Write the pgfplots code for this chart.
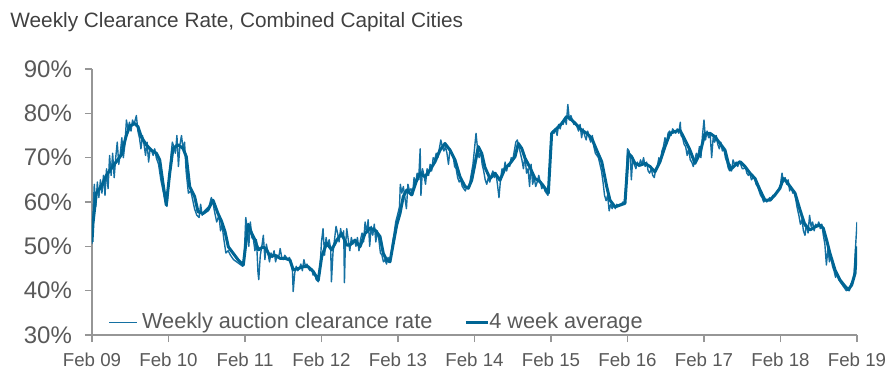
\documentclass[border=0pt]{standalone}
\usepackage{fontspec}
\setmainfont{Liberation Sans}
\usepackage{pgfplots}
\usepackage{pgfplotstable}
\pgfplotsset{compat=1.18}
\definecolor{lineblue}{RGB}{0,101,148}
\definecolor{thinblue}{RGB}{20,112,162}
\definecolor{txtgray}{RGB}{89,89,89}
\definecolor{axgray}{RGB}{150,150,150}
\definecolor{titlegray}{RGB}{64,64,64}
\pgfplotsset{
  legone/.style={legend image code/.code={\draw[##1] (0pt,0pt) -- (11.5pt,0pt); \path (0pt,0pt) -- (14pt,0pt);}},
  legtwo/.style={legend image code/.code={\draw[##1] (0pt,0pt) -- (9pt,0pt); \draw[##1,overlay] (8pt,0pt) -- (11pt,0pt);}},
}

\pgfplotstableread{
t v
0.00 50.5
0.02 60.0
0.03 64.0
0.05 59.0
0.07 64.5
0.09 61.0
0.11 65.0
0.13 62.0
0.15 66.0
0.17 61.5
0.19 67.5
0.21 63.0
0.23 70.5
0.25 66.0
0.27 71.0
0.29 65.5
0.31 70.0
0.33 73.5
0.35 68.5
0.37 71.0
0.39 74.5
0.41 70.0
0.43 73.0
0.45 78.5
0.47 76.5
0.49 78.0
0.51 76.0
0.53 78.5
0.55 77.5
0.58 79.5
0.60 76.0
0.62 74.5
0.64 72.0
0.66 75.0
0.68 73.0
0.70 70.5
0.72 73.5
0.74 69.0
0.76 72.0
0.78 71.5
0.80 70.5
0.82 72.0
0.84 70.0
0.87 68.5
0.90 65.0
0.93 62.5
0.96 60.0
0.98 59.0
1.00 63.5
1.03 70.0
1.05 73.5
1.07 72.5
1.09 71.0
1.11 75.0
1.13 68.0
1.15 73.0
1.17 75.0
1.19 72.0
1.21 73.5
1.23 67.0
1.26 62.0
1.29 62.5
1.31 61.0
1.34 58.5
1.37 57.0
1.40 56.5
1.42 59.5
1.44 57.0
1.47 58.0
1.50 58.5
1.53 59.0
1.56 61.0
1.58 60.0
1.60 58.0
1.63 55.5
1.66 57.0
1.68 53.5
1.70 55.0
1.72 52.0
1.75 48.5
1.78 49.0
1.81 48.0
1.85 47.0
1.89 46.5
1.93 46.0
1.97 45.5
1.99 48.0
2.01 56.5
2.03 54.0
2.05 50.0
2.07 55.5
2.09 52.0
2.11 51.5
2.13 49.0
2.15 51.5
2.17 44.0
2.18 42.5
2.20 48.0
2.22 50.0
2.24 52.5
2.26 47.0
2.28 50.5
2.30 48.5
2.32 46.5
2.34 48.5
2.36 47.5
2.38 49.0
2.40 46.5
2.42 48.0
2.44 47.5
2.46 49.5
2.48 47.5
2.50 47.0
2.52 48.0
2.54 47.5
2.56 47.0
2.58 47.5
2.60 46.5
2.62 44.5
2.63 39.8
2.65 44.0
2.67 45.5
2.69 44.5
2.71 45.0
2.73 46.0
2.75 44.5
2.77 47.0
2.79 45.5
2.81 46.0
2.83 45.0
2.85 44.5
2.87 45.0
2.89 43.5
2.91 44.0
2.93 42.5
2.96 42.0
2.98 45.0
3.00 51.0
3.02 54.0
3.04 48.0
3.06 52.0
3.08 50.0
3.10 51.5
3.12 49.5
3.13 42.0
3.15 48.5
3.17 51.5
3.19 54.5
3.21 53.0
3.23 51.0
3.25 54.0
3.27 52.0
3.29 53.5
3.30 41.8
3.31 49.0
3.33 54.0
3.35 51.5
3.37 49.0
3.39 52.0
3.41 50.5
3.43 51.5
3.45 50.0
3.47 52.0
3.49 49.0
3.51 51.5
3.53 53.0
3.55 51.0
3.57 55.5
3.59 53.0
3.61 56.0
3.63 50.0
3.65 54.5
3.67 52.5
3.69 55.0
3.71 51.0
3.73 53.5
3.75 51.5
3.77 48.5
3.79 48.0
3.81 46.5
3.83 47.0
3.85 46.0
3.87 47.5
3.89 46.5
3.91 48.0
3.93 51.0
3.95 53.0
3.97 55.5
4.00 57.5
4.02 59.0
4.03 64.0
4.05 62.0
4.07 63.5
4.09 61.0
4.11 58.5
4.13 64.0
4.15 62.5
4.17 63.0
4.19 61.5
4.21 65.5
4.23 64.0
4.25 66.5
4.27 65.0
4.29 72.0
4.30 61.5
4.32 67.5
4.34 66.0
4.36 64.0
4.38 67.5
4.40 66.0
4.42 68.5
4.44 67.0
4.46 70.0
4.48 69.5
4.50 71.0
4.52 70.0
4.54 72.0
4.56 74.0
4.58 72.5
4.60 71.5
4.62 72.5
4.64 71.0
4.66 68.5
4.68 72.0
4.70 71.0
4.72 70.5
4.74 68.0
4.76 67.5
4.78 65.5
4.80 64.5
4.82 65.0
4.84 63.5
4.86 63.0
4.88 62.5
4.90 63.5
4.92 63.0
4.94 64.5
4.96 66.5
4.98 68.5
5.00 72.0
5.02 75.5
5.04 72.0
5.06 70.0
5.08 71.5
5.10 68.5
5.12 67.0
5.14 65.0
5.16 64.0
5.18 65.5
5.20 64.5
5.22 66.0
5.24 67.0
5.26 65.5
5.28 66.5
5.30 64.0
5.32 61.0
5.34 65.0
5.36 67.5
5.38 66.5
5.40 69.0
5.42 67.0
5.44 68.5
5.46 68.0
5.48 70.0
5.50 69.5
5.52 71.5
5.54 73.5
5.56 74.0
5.58 72.5
5.60 71.0
5.62 69.5
5.64 67.5
5.66 70.5
5.68 66.5
5.70 67.5
5.72 63.5
5.74 68.5
5.76 64.0
5.78 65.5
5.80 63.5
5.82 64.5
5.84 66.0
5.86 64.5
5.88 63.0
5.90 64.0
5.92 62.5
5.94 62.0
5.96 61.5
5.98 66.0
6.00 74.0
6.02 76.0
6.04 75.5
6.06 76.5
6.08 75.0
6.10 77.5
6.12 76.5
6.14 78.0
6.16 77.5
6.18 79.0
6.20 77.5
6.22 82.0
6.24 78.5
6.26 79.5
6.28 78.5
6.30 77.5
6.32 78.0
6.34 77.0
6.36 76.0
6.38 77.5
6.40 74.5
6.42 76.5
6.44 75.0
6.46 74.0
6.48 76.0
6.50 74.5
6.52 73.5
6.54 75.0
6.56 72.5
6.58 71.0
6.60 70.5
6.62 70.0
6.64 68.5
6.66 67.0
6.68 64.5
6.70 61.5
6.72 60.3
6.74 61.5
6.76 58.0
6.78 59.5
6.80 58.5
6.82 59.5
6.84 58.5
6.86 59.5
6.88 59.0
6.90 59.5
6.92 59.5
6.94 60.0
6.96 60.0
6.98 64.0
7.00 72.0
7.02 71.5
7.04 69.5
7.05 65.0
7.07 70.0
7.09 68.5
7.11 67.5
7.13 69.0
7.15 68.0
7.17 69.5
7.19 68.5
7.21 70.0
7.23 68.0
7.25 69.0
7.27 67.0
7.29 66.5
7.31 67.5
7.33 66.0
7.35 65.5
7.37 67.5
7.39 68.0
7.41 70.0
7.43 69.0
7.45 71.5
7.47 72.5
7.49 74.5
7.51 73.0
7.53 75.5
7.55 76.0
7.57 75.0
7.59 76.5
7.61 76.0
7.63 75.5
7.65 76.5
7.67 75.5
7.69 78.0
7.70 75.0
7.72 74.5
7.74 73.0
7.76 72.5
7.78 70.5
7.80 72.0
7.82 69.5
7.84 69.0
7.86 68.0
7.88 69.5
7.90 71.0
7.92 70.0
7.94 72.5
7.96 70.0
7.98 75.0
8.00 78.5
8.02 74.0
8.04 76.0
8.06 74.5
8.08 75.5
8.10 70.0
8.12 74.5
8.14 73.5
8.16 75.0
8.18 73.0
8.20 72.0
8.22 73.5
8.24 71.5
8.26 72.0
8.28 70.0
8.30 69.0
8.32 67.5
8.34 68.5
8.36 67.0
8.38 69.5
8.40 68.5
8.42 69.0
8.44 68.0
8.46 69.0
8.48 68.5
8.50 67.5
8.52 67.5
8.54 68.0
8.56 66.5
8.58 66.0
8.60 66.5
8.62 65.0
8.64 65.5
8.66 65.5
8.68 64.0
8.70 63.5
8.72 62.5
8.74 61.5
8.76 61.0
8.78 60.0
8.80 60.5
8.82 60.0
8.84 60.5
8.86 61.0
8.88 60.5
8.90 61.5
8.92 61.5
8.94 62.0
8.96 62.5
8.98 63.0
9.00 64.0
9.02 66.5
9.04 64.5
9.06 65.5
9.08 64.0
9.10 65.0
9.12 62.5
9.14 63.5
9.16 62.0
9.18 62.5
9.20 60.5
9.22 58.5
9.24 57.0
9.26 55.0
9.28 56.0
9.30 53.5
9.32 52.5
9.34 55.0
9.36 53.0
9.38 57.0
9.40 54.5
9.42 55.5
9.44 53.5
9.46 55.0
9.48 54.5
9.50 55.5
9.52 54.0
9.54 55.0
9.56 52.5
9.58 50.5
9.60 45.8
9.62 49.5
9.64 46.5
9.66 48.0
9.68 45.5
9.70 44.5
9.72 43.0
9.74 44.0
9.76 42.5
9.78 42.0
9.80 41.5
9.82 41.0
9.84 40.5
9.86 40.0
9.88 40.3
9.90 40.0
9.92 41.5
9.94 42.0
9.96 43.0
9.98 49.5
10.00 55.5
}\weekly

\pgfplotstableread{
t v
0.000 51.0
0.013 55.2
0.056 62.0
0.122 63.5
0.187 66.0
0.252 67.6
0.318 69.1
0.383 70.6
0.448 75.0
0.493 77.1
0.558 77.7
0.601 77.0
0.644 74.7
0.710 72.9
0.775 71.7
0.841 71.0
0.885 69.5
0.928 64.2
0.971 59.3
1.016 66.5
1.059 72.1
1.124 72.9
1.190 72.1
1.233 70.2
1.277 63.5
1.342 61.2
1.386 57.8
1.451 57.4
1.516 58.2
1.582 60.4
1.647 57.4
1.695 55.6
1.739 53.3
1.782 49.9
1.847 48.4
1.912 46.9
1.978 45.8
2.022 52.2
2.043 55.0
2.088 52.9
2.131 51.4
2.174 49.2
2.239 49.9
2.284 49.2
2.327 47.7
2.392 48.0
2.458 47.3
2.523 47.3
2.588 46.9
2.631 44.7
2.697 45.0
2.762 45.4
2.827 45.4
2.893 44.3
2.958 42.4
3.003 47.7
3.068 50.7
3.133 49.2
3.199 51.4
3.264 52.9
3.329 50.3
3.373 50.3
3.438 51.4
3.503 49.9
3.569 52.9
3.634 54.1
3.699 53.7
3.765 52.2
3.808 48.4
3.852 46.9
3.895 46.5
3.939 50.7
3.983 54.8
4.026 57.4
4.069 61.2
4.114 62.7
4.179 61.6
4.244 64.9
4.288 66.5
4.353 65.7
4.418 67.2
4.484 69.1
4.549 71.7
4.614 73.2
4.680 71.7
4.745 69.5
4.810 65.7
4.876 63.5
4.919 63.1
4.963 64.9
5.007 68.7
5.050 72.5
5.094 71.0
5.137 67.8
5.203 65.3
5.268 66.5
5.333 64.9
5.399 67.6
5.464 68.7
5.529 70.2
5.573 73.2
5.617 72.1
5.660 69.9
5.725 67.8
5.791 65.3
5.856 64.6
5.922 63.1
5.965 62.0
6.009 75.5
6.075 76.6
6.140 77.7
6.205 79.3
6.271 78.5
6.336 77.4
6.401 76.2
6.466 75.5
6.532 74.4
6.597 71.7
6.663 69.1
6.728 63.5
6.771 60.4
6.837 58.9
6.902 59.3
6.967 59.7
7.011 71.0
7.055 70.2
7.098 68.7
7.163 68.3
7.229 68.7
7.294 68.0
7.359 66.8
7.425 69.1
7.490 72.5
7.556 75.5
7.621 75.9
7.686 76.2
7.752 74.0
7.817 71.7
7.882 68.7
7.948 71.0
8.013 75.5
8.078 75.5
8.144 74.7
8.209 73.2
8.275 71.7
8.340 67.2
8.405 68.3
8.471 69.1
8.536 68.0
8.601 66.5
8.667 65.3
8.732 62.7
8.797 60.4
8.863 60.4
8.928 61.6
8.993 63.1
9.037 65.3
9.080 64.6
9.124 63.5
9.190 62.0
9.255 58.2
9.320 54.8
9.386 53.7
9.451 54.4
9.516 54.8
9.559 54.1
9.603 51.4
9.647 48.4
9.712 44.7
9.778 42.4
9.843 41.0
9.886 40.2
9.931 41.3
9.974 43.9
9.996 50.0
}\avg

\begin{document}
\begin{tikzpicture}
\path[use as bounding box] (0,0) rectangle (448pt,188pt);
\node[anchor=west, text=titlegray, font=\fontsize{10.4}{12}\selectfont, inner sep=0pt] at (5pt,177pt) {Weekly Clearance Rate, Combined Capital Cities};
\begin{axis}[
  at={(46pt,20.5pt)}, anchor=south west,
  width=382.5pt, height=133pt, scale only axis,
  xmin=0, xmax=10, ymin=30, ymax=90,
  axis x line*=bottom, axis y line*=left,
  axis line style={draw=axgray, line width=0.6pt, -},
  xtick={0,1,2,3,4,5,6,7,8,9,10},
  xticklabels={Feb 09,Feb 10,Feb 11,Feb 12,Feb 13,Feb 14,Feb 15,Feb 16,Feb 17,Feb 18,Feb 19},
  ytick={30,40,50,60,70,80,90},
  yticklabels={30\%,40\%,50\%,60\%,70\%,80\%,90\%},
  tick align=outside, major tick length=3.5pt,
  tick style={draw=axgray, line width=0.6pt},
  xticklabel style={font=\fontsize{9.35}{11}\selectfont, text=txtgray, yshift=-2pt},
  yticklabel style={font=\fontsize{12}{14}\selectfont, text=txtgray, xshift=-3pt},
  legend columns=2,
  legend style={at={(0.0135,-0.02)}, anchor=south west, draw=none, fill=none,
    font=\fontsize{10.85}{13}\selectfont, text=txtgray,
    /tikz/every even column/.append style={column sep=14pt}},
]
\addplot[thinblue, line width=0.7pt, line join=round, legone] table[x=t,y=v]{\weekly};
\addlegendentry{Weekly auction clearance rate}
\addplot[lineblue, line width=1.5pt, line join=round, legtwo] table[x=t,y=v]{\avg};
\addlegendentry{4 week average}
\end{axis}
\end{tikzpicture}
\end{document}
